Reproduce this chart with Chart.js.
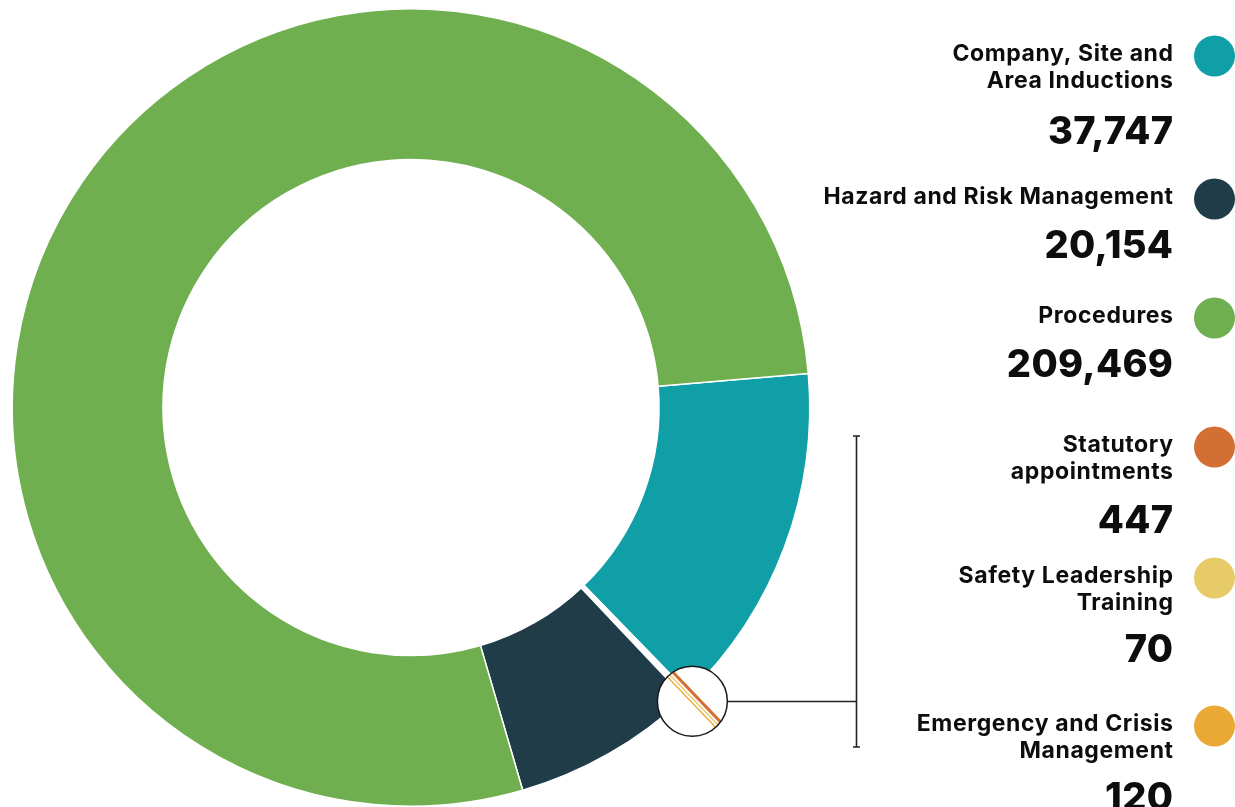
<!DOCTYPE html>
<html><head><meta charset="utf-8">
<script src="https://cdn.jsdelivr.net/npm/chart.js@4.4.0/dist/chart.umd.min.js"></script>
<style>html,body{margin:0;padding:0;background:#fff;overflow:hidden}#wrap{position:relative;width:1235px;height:807px}canvas{display:block}</style>
</head><body><div id="wrap"><canvas id="c" width="1235" height="807"></canvas></div>
<script>
// ---- data ----
const categories = ['Company, Site and Area Inductions','Hazard and Risk Management','Procedures','Statutory appointments','Safety Leadership Training','Emergency and Crisis Management'];
const labelLines = [['Company, Site and','Area Inductions'],['Hazard and Risk Management'],['Procedures'],['Statutory','appointments'],['Safety Leadership','Training'],['Emergency and Crisis','Management']];
const values = [37747, 20154, 209469, 447, 70, 120];
const valueLabels = ['37,747','20,154','209,469','447','70','120'];
const dotColors = ['#119fa7','#1f3c48','#70af50','#d46f33','#e6cb68','#eaa935'];
// order of the slices round the ring (clockwise), indices into the arrays above
const ringOrder = [0, 3, 4, 5, 1, 2];
const smallSlices = [3, 4, 5];

// ---- layout (not data) ----
const legendRight = 1173, dotX = 1214.5, dotR = 20.5, lineGap = 26.7;
const firstBaselines = [61, 204, 323, 452, 583, 731];
const valueBaselines = [144, 258, 377, 533, 662, 810];
const magLineOffsets = [-6, -2, 1.2];
const magLineWidths = [3, 1.4, 1.4];

const ringColors = ringOrder.map(i => smallSlices.includes(i) ? '#ffffff' : dotColors[i]);

const overlay = {
  id: 'overlay',
  afterDraw(chart) {
    const c = chart.ctx;
    const meta = chart.getDatasetMeta(0);
    const first = meta.data[ringOrder.indexOf(smallSlices[0])];
    const last = meta.data[ringOrder.indexOf(smallSlices[smallSlices.length - 1])];
    const mid = (first.startAngle + last.endAngle) / 2;
    const cx = first.x, cy = first.y, R = first.outerRadius;
    const mr = 35, md = R + 8;
    const mx = cx + Math.cos(mid) * md, my = cy + Math.sin(mid) * md;
    const dx = Math.cos(mid), dy = Math.sin(mid), px = -dy, py = dx;
    // magnifier
    c.save();
    c.beginPath(); c.arc(mx, my, mr, 0, Math.PI * 2); c.fillStyle = '#fff'; c.fill();
    c.clip();
    smallSlices.forEach((idx, k) => {
      const o = magLineOffsets[k];
      c.beginPath();
      c.moveTo(mx + px * o - dx * 60, my + py * o - dy * 60);
      c.lineTo(mx + px * o + dx * 60, my + py * o + dy * 60);
      c.strokeStyle = dotColors[idx]; c.lineWidth = magLineWidths[k]; c.stroke();
    });
    c.restore();
    c.save();
    c.beginPath(); c.arc(mx, my, mr, 0, Math.PI * 2);
    c.strokeStyle = '#1a1a1a'; c.lineWidth = 1.5; c.stroke();
    // connector + bracket
    const bx = chart.chartArea.right + 45.5;
    const bTop = firstBaselines[3] - 16, bBot = firstBaselines[5] + 16;
    c.strokeStyle = '#222'; c.lineWidth = 1.3;
    c.beginPath(); c.moveTo(mx + mr, Math.round(my) + 0.5); c.lineTo(bx, Math.round(my) + 0.5); c.stroke();
    c.lineWidth = 1.6;
    c.beginPath(); c.moveTo(bx, bTop); c.lineTo(bx, bBot); c.stroke();
    c.lineWidth = 1.5;
    c.beginPath(); c.moveTo(bx - 3.5, bTop); c.lineTo(bx + 3.5, bTop); c.moveTo(bx - 3.5, bBot); c.lineTo(bx + 3.5, bBot); c.stroke();
    // legend
    c.fillStyle = '#0d0d0d';
    c.textAlign = 'right'; c.textBaseline = 'alphabetic';
    labelLines.forEach((lines, i) => {
      c.font = '700 23px Inter';
      c.letterSpacing = '0.6px';
      lines.forEach((t, j) => c.fillText(t, legendRight + 0.6, firstBaselines[i] + j * lineGap));
      c.font = '800 38px Inter';
      c.letterSpacing = '0.3px';
      c.fillText(valueLabels[i], legendRight + 0.3, valueBaselines[i]);
      c.letterSpacing = '0px';
      c.beginPath(); c.arc(dotX, firstBaselines[i] - 5, dotR, 0, Math.PI * 2);
      c.fillStyle = dotColors[i]; c.fill(); c.fillStyle = '#0d0d0d';
    });
    c.restore();
  }
};

new Chart(document.getElementById('c'), {
  type: 'doughnut',
  data: {
    labels: ringOrder.map(i => categories[i]),
    datasets: [{
      data: ringOrder.map(i => values[i]),
      backgroundColor: ringColors,
      borderColor: '#ffffff',
      borderWidth: 1.5,
      hoverOffset: 0
    }]
  },
  options: {
    responsive: false,
    animation: false,
    rotation: 85.1,
    cutout: '62.2%',
    layout: { padding: { left: 11, top: 8, right: 424, bottom: 0 } },
    plugins: { legend: { display: false }, tooltip: { enabled: false } }
  },
  plugins: [overlay]
});
</script>
</body></html>
